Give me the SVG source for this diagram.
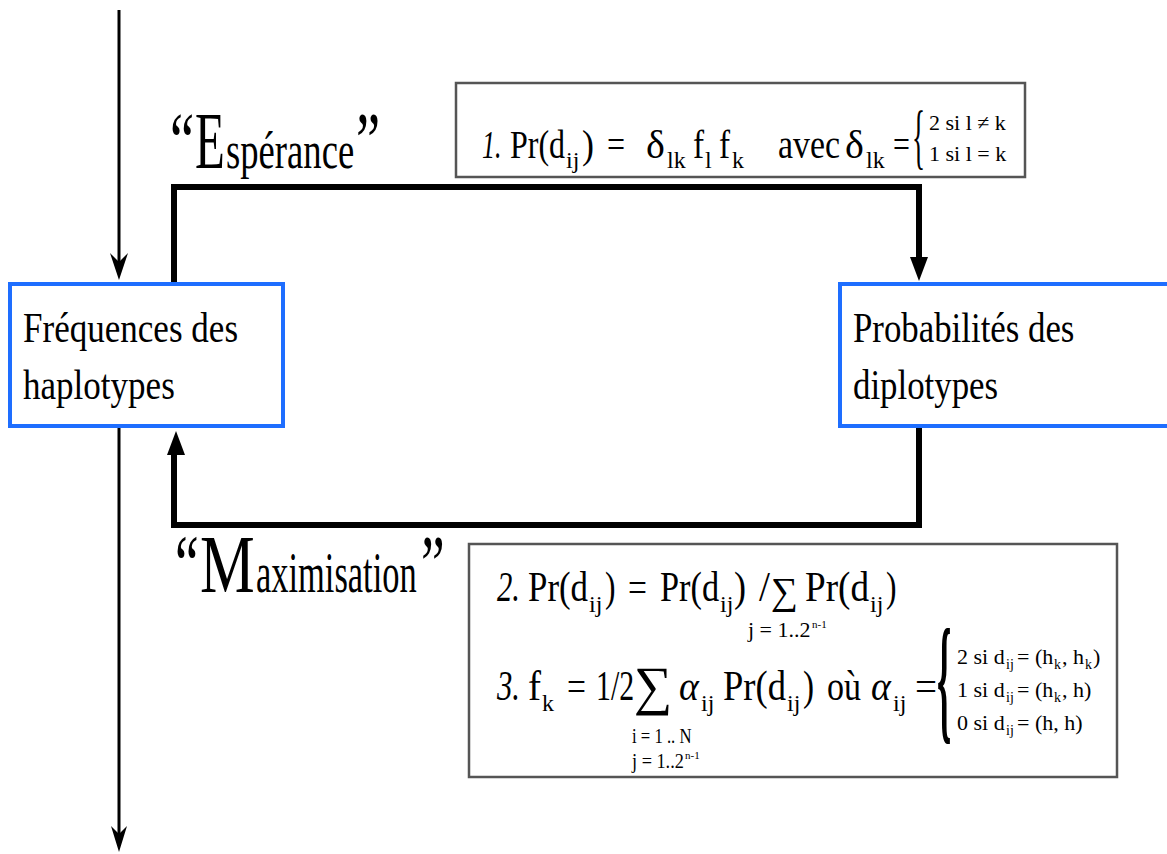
<svg xmlns="http://www.w3.org/2000/svg" width="1167" height="854" viewBox="0 0 1167 854">
<style>
text{font-family:"Liberation Serif","Times New Roman",serif;fill:#000}
.lg{font-size:43px}
.m{font-size:40px}
.b{font-size:42px}
.sb{font-size:24px}
.it{font-style:italic}
.sm{font-size:22px}
.cs{font-size:22px}
.cb{font-size:14px}
.tiny{font-size:11px}
.node{fill:#fff;stroke:#1e6eff;stroke-width:4}
.fbox{fill:#fff;stroke:#555;stroke-width:2.5}
.thin{stroke:#000;stroke-width:3;fill:none}
.thick{stroke:#000;stroke-width:6;fill:none;stroke-linejoin:miter;stroke-linecap:butt}
</style>
<rect width="1167" height="854" fill="#fff"/>

<g id="connectors">
  <line class="thin" x1="119" y1="10" x2="119" y2="262"/>
  <polygon points="119,280 110,253 119,262 128,253"/>
  <line class="thin" x1="119" y1="428" x2="119" y2="836"/>
  <polygon points="119,852 111,826 119,834 127,826"/>
  <path class="thick" d="M174,284 V187 H919 V260"/>
  <polygon points="919,281 910,257 928,257"/>
  <path class="thick" d="M919,426 V525 H174 V452"/>
  <polygon points="176,431 167,455 185,455"/>
</g>

<g id="node-frequences">
  <rect class="node" x="10" y="284" width="273" height="142"/>
  <text class="lg" transform="translate(23,342) scale(0.815,1)">Fréquences des</text>
  <text class="lg" transform="translate(23,399) scale(0.815,1)">haplotypes</text>
</g>

<g id="node-probabilites">
  <rect class="node" x="840" y="284" width="340" height="142"/>
  <text class="lg" transform="translate(853,342) scale(0.81,1)">Probabilités des</text>
  <text class="lg" transform="translate(853,399) scale(0.81,1)">diplotypes</text>
</g>

<g id="label-esperance">
  <text font-size="80" transform="translate(170,168) scale(0.68,1)">“</text>
  <text font-size="80" transform="translate(195,168) scale(0.61,1)">E</text>
  <text font-size="52" transform="translate(226,168) scale(0.705,1)">spérance</text>
  <text font-size="80" transform="translate(356,168) scale(0.68,1)">”</text>
</g>

<g id="label-maximisation">
  <text font-size="82" transform="translate(175,592) scale(0.65,1)">“</text>
  <text font-size="82" transform="translate(200,592) scale(0.75,1)">M</text>
  <text font-size="56" transform="translate(256,592) scale(0.615,1)">aximisation</text>
  <text font-size="82" transform="translate(421,592) scale(0.65,1)">”</text>
</g>

<g id="formula-1">
  <rect class="fbox" x="456" y="83" width="569" height="94"/>
  <text class="m it" transform="translate(482,158) scale(0.65,1)">1.</text>
  <text class="m" transform="translate(510,158) scale(0.8,1)">Pr(d</text>
  <text class="sb" x="566" y="168">ij</text>
  <text class="m" transform="translate(582,158) scale(0.9,1)">)</text>
  <text class="m" transform="translate(607,158) scale(0.8,1)">=</text>
  <text class="m" x="646" y="158">δ</text>
  <text class="sb" x="667" y="168">lk</text>
  <text class="m" transform="translate(693,158) scale(0.83,1)">f</text>
  <text class="sb" x="705" y="168">l</text>
  <text class="m" transform="translate(719,158) scale(0.83,1)">f</text>
  <text class="sb" x="732" y="168">k</text>
  <text class="m" transform="translate(778,158) scale(0.846,1)">avec</text>
  <text class="m" x="845" y="158">δ</text>
  <text class="sb" x="866" y="168">lk</text>
  <text class="m" transform="translate(893,158) scale(0.75,1)">=</text>
  <text font-size="72" transform="translate(912,160) scale(0.38,1)">{</text>
  <text class="sm" x="929" y="130">2 si l ≠ k</text>
  <text class="sm" x="929" y="161">1 si l = k</text>
</g>

<g id="formula-2-3">
  <rect class="fbox" x="469" y="544" width="648" height="233"/>
  <text class="b it" transform="translate(497,601) scale(0.73,1)">2.</text>
  <text class="b" transform="translate(528,601) scale(0.83,1)">Pr(d</text>
  <text class="sb" x="589" y="612">ij</text>
  <text class="b" transform="translate(605,601) scale(0.75,1)">)</text>
  <text class="b" transform="translate(628,601) scale(0.8,1)">=</text>
  <text class="b" transform="translate(660,601) scale(0.816,1)">Pr(d</text>
  <text class="sb" x="720" y="612">ij</text>
  <text class="b" transform="translate(734,601) scale(0.86,1)">)</text>
  <text class="b" transform="translate(759,601) scale(0.94,1)">/</text>
  <text x="771" y="604" font-size="38">∑</text>
  <text class="b" transform="translate(805,601) scale(0.885,1)">Pr(d</text>
  <text class="sb" x="870" y="612">ij</text>
  <text class="b" transform="translate(886,601) scale(0.75,1)">)</text>
  <text class="sm" x="748" y="637">j = 1..2</text>
  <text class="tiny" x="812" y="628">n-1</text>

  <text class="b it" transform="translate(497,700) scale(0.73,1)">3.</text>
  <text class="b" transform="translate(528,700) scale(0.93,1)">f</text>
  <text class="sb" x="542" y="711">k</text>
  <text class="b" transform="translate(567,700) scale(0.8,1)">=</text>
  <text class="b" transform="translate(596,700) scale(0.71,1)">1/2</text>
  <text x="634" y="704" font-size="54">∑</text>
  <text class="b it" transform="translate(679,700) scale(0.9,1)">α</text>
  <text class="sb" x="701" y="711">ij</text>
  <text class="b" transform="translate(723,700) scale(0.87,1)">Pr(d</text>
  <text class="sb" x="787" y="711">ij</text>
  <text class="b" transform="translate(803,700) scale(0.79,1)">)</text>
  <text class="b" transform="translate(827,700) scale(0.81,1)">où</text>
  <text class="b it" transform="translate(871,700) scale(0.9,1)">α</text>
  <text class="sb" x="893" y="711">ij</text>
  <text class="b" transform="translate(915,700) scale(0.93,1)">=</text>
  <text font-size="140" font-weight="bold" transform="translate(937,725) scale(0.26,1)">{</text>

  <text class="cs" x="957" y="664">2 si d</text>
  <text class="cb" x="1006" y="669">ij</text>
  <text class="cs" x="1017" y="664">= (h</text>
  <text class="cb" x="1054" y="669">k</text>
  <text class="cs" x="1062" y="664">, h</text>
  <text class="cb" x="1085" y="669">k</text>
  <text class="cs" x="1093" y="664">)</text>

  <text class="cs" x="957" y="697">1 si d</text>
  <text class="cb" x="1006" y="702">ij</text>
  <text class="cs" x="1017" y="697">= (h</text>
  <text class="cb" x="1054" y="702">k</text>
  <text class="cs" x="1062" y="697">, h)</text>

  <text class="cs" x="957" y="730">0 si d</text>
  <text class="cb" x="1006" y="735">ij</text>
  <text class="cs" x="1017" y="730">= (h, h)</text>

  <text class="sm" transform="translate(632,743) scale(0.76,1)">i = 1 .. N</text>
  <text class="sm" transform="translate(632,768) scale(0.83,1)">j = 1..2</text>
  <text class="tiny" x="685" y="759">n-1</text>
</g>
</svg>
